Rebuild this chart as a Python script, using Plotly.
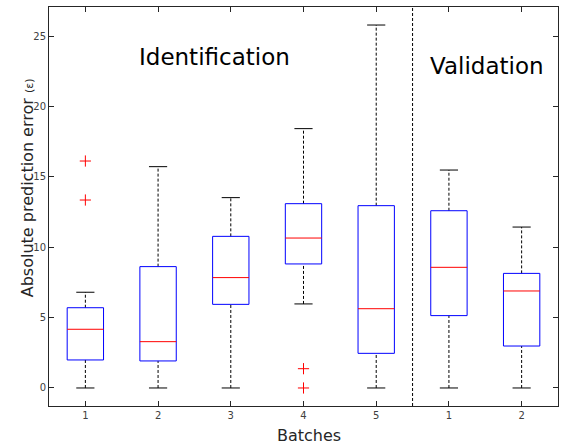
import plotly.graph_objects as go

# ---- data ----
positions = [1, 2, 3, 4, 5, 6, 7]
tick_labels = ["1", "2", "3", "4", "5", "1", "2"]
lower_whisker = [0.0, 0.0, 0.0, 5.97, 0.0, 0.0, 0.0]
q1 = [1.99, 1.92, 5.94, 8.81, 2.46, 5.14, 2.98]
median = [4.17, 3.29, 7.84, 10.65, 5.63, 8.57, 6.89]
q3 = [5.70, 8.62, 10.77, 13.09, 12.95, 12.59, 8.14]
upper_whisker = [6.80, 15.72, 13.52, 18.42, 25.78, 15.48, 11.43]
outlier_x = [1, 1, 4, 4]
outlier_y = [16.12, 13.35, 1.37, 0.0]
group_labels = ["Identification", "Validation"]
x_title = "Batches"
y_title = "Absolute prediction error <span style='font-size:11px'>(ε)</span>"

BOX_HALF = 0.25
CAP_HALF = 0.125
DASH = "3px,2px"

box_x, box_y = [], []
med_x, med_y = [], []
wh_x, wh_y = [], []
cap_x, cap_y = [], []
for p, lw, a, m, b, uw in zip(positions, lower_whisker, q1, median, q3, upper_whisker):
    box_x += [p - BOX_HALF, p + BOX_HALF, p + BOX_HALF, p - BOX_HALF, p - BOX_HALF, None]
    box_y += [a, a, b, b, a, None]
    med_x += [p - BOX_HALF, p + BOX_HALF, None]
    med_y += [m, m, None]
    wh_x += [p, p, None, p, p, None]
    wh_y += [b, uw, None, lw, a, None]
    cap_x += [p - CAP_HALF, p + CAP_HALF, None, p - CAP_HALF, p + CAP_HALF, None]
    cap_y += [uw, uw, None, lw, lw, None]

fig = go.Figure()
fig.add_trace(go.Scatter(x=wh_x, y=wh_y, mode="lines",
                         line=dict(color="black", width=1, dash=DASH), hoverinfo="skip"))
fig.add_trace(go.Scatter(x=cap_x, y=cap_y, mode="lines",
                         line=dict(color="black", width=1), hoverinfo="skip"))
fig.add_trace(go.Scatter(x=box_x, y=box_y, mode="lines",
                         line=dict(color="#0000ff", width=1), hoverinfo="skip"))
fig.add_trace(go.Scatter(x=med_x, y=med_y, mode="lines",
                         line=dict(color="#ff0000", width=1), hoverinfo="skip"))
fig.add_trace(go.Scatter(x=outlier_x, y=outlier_y, mode="markers",
                         marker=dict(symbol="cross-thin", size=8,
                                     line=dict(color="#ff0000", width=1)),
                         hoverinfo="skip"))

fig.add_shape(type="line", xref="x", yref="paper", x0=5.5, x1=5.5, y0=0, y1=1,
              line=dict(color="black", width=1, dash=DASH))

fig.add_annotation(x=2.77, y=23.5, text=group_labels[0], showarrow=False,
                   font=dict(family="DejaVu Sans", size=23, color="black"))
fig.add_annotation(x=6.52, y=22.9, text=group_labels[1], showarrow=False,
                   font=dict(family="DejaVu Sans", size=23, color="black"))

# axis titles
fig.add_annotation(xref="paper", yref="paper", x=0.51, y=-0.075, text=x_title,
                   showarrow=False, xanchor="center", yanchor="middle",
                   font=dict(family="DejaVu Sans", size=16, color="#262626"))
fig.add_annotation(xref="paper", yref="paper", x=-0.043, y=0.546, text=y_title,
                   showarrow=False, xanchor="center", yanchor="middle", textangle=-90,
                   font=dict(family="DejaVu Sans", size=16, color="#262626"))

axis_common = dict(showline=True, linecolor="#262626", linewidth=1, mirror="ticks",
                   ticks="inside", ticklen=5, tickcolor="#262626", showgrid=False,
                   zeroline=False, automargin=False,
                   tickfont=dict(family="DejaVu Sans", size=10, color="#404040"))

fig.update_xaxes(range=[0.5, 7.5], tickvals=positions, ticktext=tick_labels, **axis_common)
fig.update_yaxes(range=[-1.28, 27.06], tickvals=[0, 5, 10, 15, 20, 25], **axis_common)

fig.update_layout(width=562, height=448, showlegend=False,
                  margin=dict(l=49, r=4, t=7, b=42),
                  plot_bgcolor="white", paper_bgcolor="white")

fig.write_html("out.html", config={"displayModeBar": False},
               post_script="document.body.style.margin='0';document.body.style.overflow='hidden';")
